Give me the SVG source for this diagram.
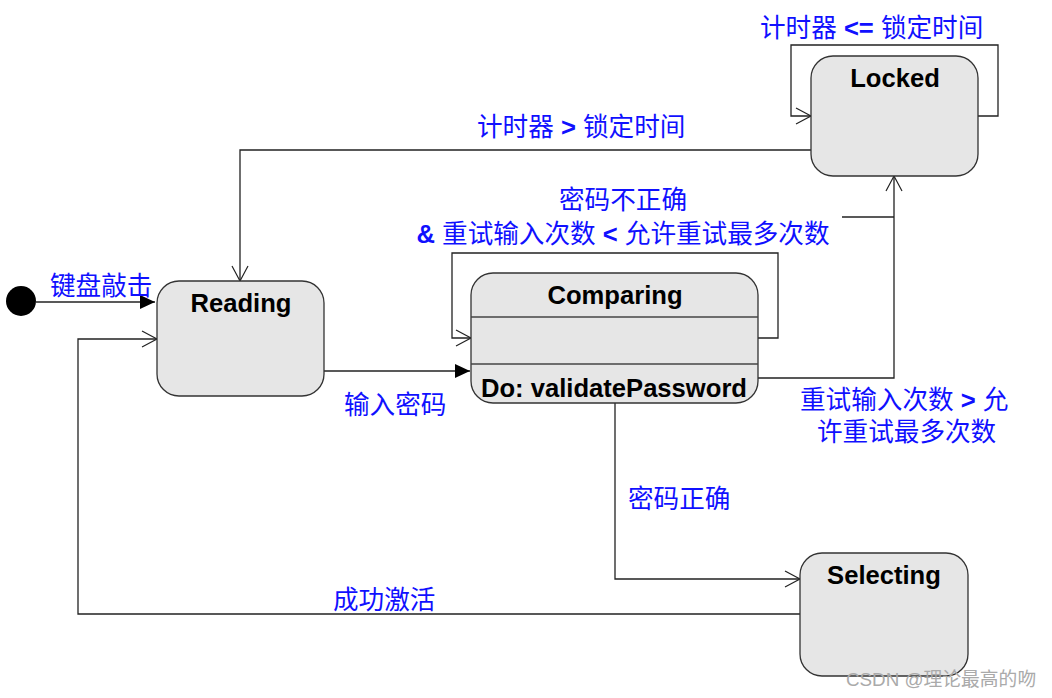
<svg xmlns="http://www.w3.org/2000/svg" width="1052" height="698" viewBox="0 0 1052 698">
<defs>
<marker id="open" markerWidth="18" markerHeight="18" refX="16" refY="9" orient="auto" markerUnits="userSpaceOnUse">
<path d="M1,1 L16,9 L1,17" fill="none" stroke="#222" stroke-width="1.2"/>
</marker>
<marker id="filled" markerWidth="16" markerHeight="14" refX="15" refY="7" orient="auto" markerUnits="userSpaceOnUse">
<path d="M0,0 L15,7 L0,14 Z" fill="#000"/>
</marker>
</defs>
<style>
.node{fill:#e6e6e6;stroke:#333;stroke-width:1.3}
.sep{stroke:#444;stroke-width:1.3}
.name{font-family:"Liberation Sans",Arial,sans-serif;font-weight:bold;font-size:25.6px;fill:#000}
.lbl{font-family:"Liberation Sans","Noto Sans CJK SC",sans-serif;font-size:25.6px;fill:#1010ff}
.b{font-weight:bold}
.edge{fill:none;stroke:#222;stroke-width:1.3}
.wm{font-family:"Liberation Sans","Noto Sans CJK SC",sans-serif;font-size:18.8px;fill:#aaa}
</style>
<rect width="1052" height="698" fill="#fff"/>
<g id="connectors">
<path class="edge" d="M36,302 L155,302" marker-end="url(#filled)"/>
<path class="edge" d="M811,150 L240,150 L240,281" marker-end="url(#open)"/>
<path class="edge" d="M324,371 L470,371" marker-end="url(#filled)"/>
<path class="edge" d="M758,338 L778,338 L778,253 L452,253 L452,338 L471,338" marker-end="url(#open)"/>
<path class="edge" d="M758,378 L894,378 L894,176" marker-end="url(#open)"/>
<path class="edge" d="M894,176 L894,117"/>
<path class="edge" d="M842,217 L894,217"/>
<path class="edge" d="M978,116 L998,116 L998,45 L791,45 L791,116 L811,116" marker-end="url(#open)"/>
<path class="edge" d="M615,403 L615,579 L800,579" marker-end="url(#open)"/>
<path class="edge" d="M800,614 L78,614 L78,339 L157,339" marker-end="url(#open)"/>
</g>
<g id="initial">
<circle cx="21" cy="301" r="15" fill="#000"/>
</g>
<g id="reading">
<rect class="node" x="157" y="281" width="167" height="115" rx="22"/>
<text class="name" x="241" y="312" text-anchor="middle">Reading</text>
</g>
<g id="comparing">
<rect class="node" x="471" y="273" width="287" height="130" rx="22"/>
<line class="sep" x1="471" y1="317" x2="758" y2="317"/>
<line class="sep" x1="471" y1="364" x2="758" y2="364"/>
<text class="name" x="615" y="304" text-anchor="middle">Comparing</text>
<text class="name" x="481" y="397">Do: validatePassword</text>
</g>
<g id="locked">
<rect class="node" x="811" y="56" width="167" height="120" rx="22"/>
<text class="name" x="895" y="87" text-anchor="middle">Locked</text>
</g>
<g id="selecting">
<rect class="node" x="800" y="553" width="168" height="123" rx="22"/>
<text class="name" x="884" y="584" text-anchor="middle">Selecting</text>
</g>
<g id="labels">
<text class="lbl" x="50" y="295">键盘敲击</text>
<text class="lbl" x="477" y="136">计时器 <tspan class="b">&gt;</tspan> 锁定时间</text>
<text class="lbl" x="623" y="209" text-anchor="middle">密码不正确</text>
<text class="lbl" x="623" y="243" text-anchor="middle"><tspan class="b">&amp;</tspan> 重试输入次数 <tspan class="b">&lt;</tspan> 允许重试最多次数</text>
<text class="lbl" x="344" y="414">输入密码</text>
<text class="lbl" x="800" y="409">重试输入次数 <tspan class="b">&gt;</tspan> 允</text>
<text class="lbl" x="817" y="441">许重试最多次数</text>
<text class="lbl" x="628" y="508">密码正确</text>
<text class="lbl" x="333" y="609">成功激活</text>
<text class="lbl" x="760" y="37">计时器 <tspan class="b">&lt;=</tspan> 锁定时间</text>
</g>
<text class="wm" x="846" y="686">CSDN @理论最高的吻</text>
</svg>
